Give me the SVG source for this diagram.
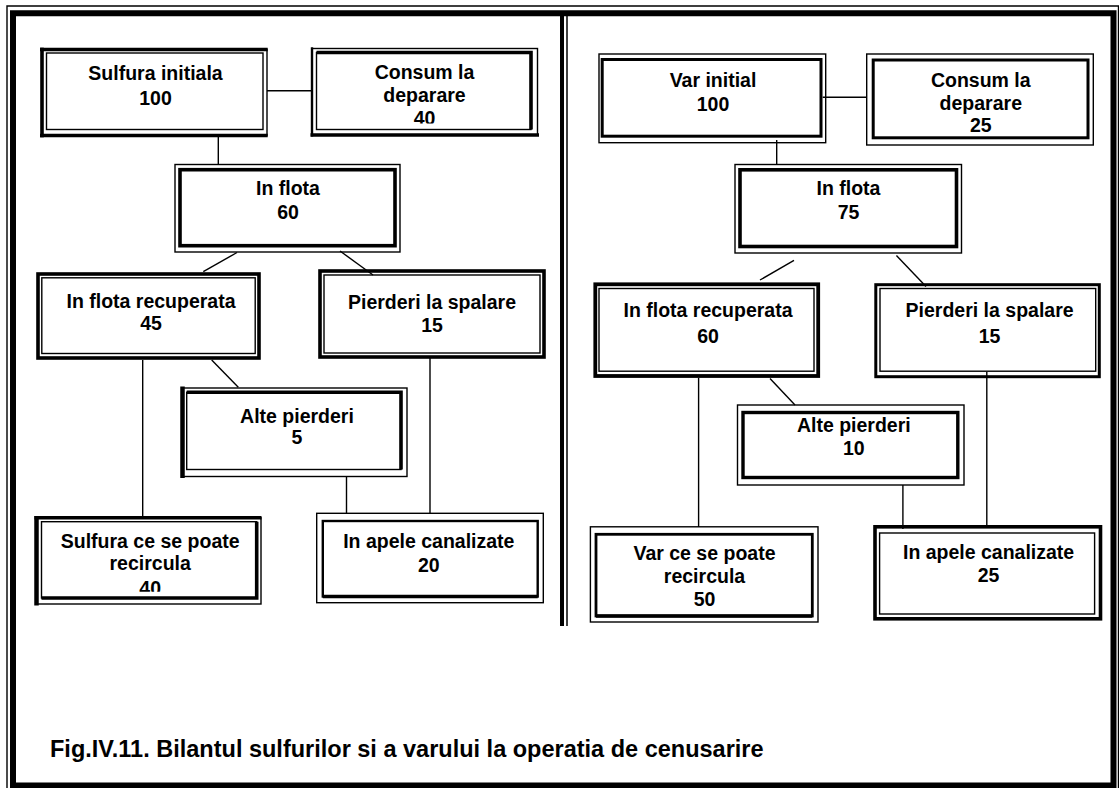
<svg xmlns="http://www.w3.org/2000/svg" width="1119" height="788" viewBox="0 0 1119 788">
<style>
.thin{fill:none;stroke:#000;stroke-width:1.4}
.med{fill:none;stroke:#000;stroke-width:2.4}
.thick{fill:none;stroke:#000;stroke-width:3.6}
.heavy{fill:none;stroke:#000;stroke-width:4.5}
.conn line{stroke:#000;stroke-width:1.4}
text{font-family:"Liberation Sans",Arial,Helvetica,sans-serif;font-weight:bold;fill:#000}
.t{font-size:19.5px;text-anchor:middle}
.cap{font-size:23.5px}
</style>
<defs>
<clipPath id="clipA"><rect x="310" y="40" width="240" height="83.5"/></clipPath>
<clipPath id="clipB"><rect x="30" y="510" width="240" height="81.8"/></clipPath>
</defs>
<rect x="0" y="0" width="1119" height="788" fill="#fff"/>
<g id="frame">
<path class="thin" d="M7 788V6H1118.5V788"/>
<path d="M13 788V13.3H1113.5V785.5H13" fill="none" stroke="#000" stroke-width="6"/>
<path d="M562 16V626" fill="none" stroke="#000" stroke-width="4"/>
<path d="M567 16V626" fill="none" stroke="#000" stroke-width="1.5"/>
</g>
<g id="connectors" class="conn">
<line x1="267" y1="90.7" x2="311" y2="90.7"/>
<line x1="218.3" y1="137" x2="218.3" y2="164"/>
<line x1="237" y1="252.5" x2="203.3" y2="271.7"/>
<line x1="340" y1="251" x2="373" y2="275"/>
<line x1="211.7" y1="360" x2="238.3" y2="387.3"/>
<line x1="142.7" y1="360" x2="142.7" y2="516"/>
<line x1="346.5" y1="477" x2="346.5" y2="513"/>
<line x1="430" y1="358" x2="430" y2="513"/>
<line x1="822.7" y1="97.3" x2="867" y2="97.3"/>
<line x1="776.7" y1="140" x2="776.7" y2="164"/>
<line x1="794" y1="260.4" x2="760" y2="280"/>
<line x1="896.4" y1="255.4" x2="926" y2="286.4"/>
<line x1="770" y1="378.6" x2="795" y2="405"/>
<line x1="698.6" y1="378" x2="698.6" y2="527"/>
<line x1="902.9" y1="485" x2="902.9" y2="529"/>
<line x1="986.8" y1="372" x2="986.8" y2="525"/>
</g>
<g id="n-sulfura-initiala">
<rect class="thin" x="42" y="49.5" width="225" height="86"/>
<path class="thick" d="M42 47.5V137.5M40 49.5H267.7M40 135.5H267.7"/>
<rect class="thin" x="46.5" y="53" width="216.5" height="76.5"/>
<text class="t" x="155.5" y="80">Sulfura initiala</text>
<text class="t" x="155.5" y="105">100</text>
</g>
<g id="n-consum-s">
<rect class="thin" x="312" y="48.5" width="225.5" height="86.5"/>
<path class="med" d="M312 47.3V136.5"/>
<path class="thick" d="M310.5 135H539"/>
<rect class="thin" x="316.5" y="52.5" width="214.5" height="77"/>
<path class="thick" d="M316.5 52.5H531V129.5"/>
<g clip-path="url(#clipA)">
<text class="t" x="424.5" y="79">Consum la</text>
<text class="t" x="424.5" y="101.7">deparare</text>
<text class="t" x="424.5" y="125">40</text>
</g>
</g>
<g id="n-flota-s">
<rect class="thin" x="175" y="164.5" width="225" height="87.5"/>
<rect class="thick" x="180" y="169.7" width="215" height="76"/>
<text class="t" x="288" y="195">In flota</text>
<text class="t" x="288" y="219">60</text>
</g>
<g id="n-recuperata-s">
<rect class="thick" x="38" y="274" width="221" height="84"/>
<rect class="thin" x="41.8" y="277.8" width="213.4" height="75.7"/>
<text class="t" x="151" y="308.3">In flota recuperata</text>
<text class="t" x="151" y="330">45</text>
</g>
<g id="n-spalare-s">
<rect class="thick" x="320" y="271" width="224" height="86"/>
<rect class="thin" x="324" y="275" width="216" height="78"/>
<text class="t" x="432" y="309">Pierderi la spalare</text>
<text class="t" x="432" y="332">15</text>
</g>
<g id="n-alte-s">
<rect class="thin" x="182.5" y="388" width="224.5" height="88.5"/>
<path class="heavy" d="M182.5 386.5V478"/>
<rect class="thin" x="186.7" y="392.3" width="214.3" height="77.2"/>
<path class="thick" d="M186.7 392.3H401V469.5"/>
<text class="t" x="297" y="422.7">Alte pierderi</text>
<text class="t" x="297" y="444">5</text>
</g>
<g id="n-recircula-s">
<rect class="thin" x="36.5" y="517.8" width="224.5" height="86.2"/>
<path class="heavy" d="M36.5 516V605.5"/>
<path class="thick" d="M34.5 517.8H261.5"/>
<rect class="thin" x="41.5" y="521.7" width="215.2" height="76.3"/>
<path class="thick" d="M256.7 521.7V598H41.5"/>
<g clip-path="url(#clipB)">
<text class="t" x="150.2" y="548.3">Sulfura ce se poate</text>
<text class="t" x="150.2" y="570">recircula</text>
<text class="t" x="150.2" y="595">40</text>
</g>
</g>
<g id="n-apele-s">
<rect class="thin" x="316.7" y="513.3" width="226.6" height="89.4"/>
<rect class="med" x="322.8" y="521" width="214.9" height="75.5"/>
<path class="thick" d="M322.8 596.5H537.7"/>
<text class="t" x="428.8" y="548.3">In apele canalizate</text>
<text class="t" x="428.8" y="571.7">20</text>
</g>
<g id="n-var-initial">
<rect class="thin" x="599" y="54" width="226.7" height="88.7"/>
<rect x="602.2" y="59.5" width="218.8" height="76.7" fill="none" stroke="#000" stroke-width="3"/>
<text class="t" x="713" y="87.3">Var initial</text>
<text class="t" x="713" y="111">100</text>
</g>
<g id="n-consum-v">
<rect class="thin" x="866.7" y="54" width="226.6" height="91"/>
<rect x="873.2" y="60" width="214.8" height="77.8" fill="none" stroke="#000" stroke-width="3"/>
<text class="t" x="980.8" y="87.3">Consum la</text>
<text class="t" x="980.8" y="110">deparare</text>
<text class="t" x="980.8" y="132">25</text>
</g>
<g id="n-flota-v">
<rect class="thin" x="735" y="164.5" width="226.5" height="88.5"/>
<rect class="thick" x="740" y="169.8" width="216.5" height="76.7"/>
<text class="t" x="848.5" y="195">In flota</text>
<text class="t" x="848.5" y="219">75</text>
</g>
<g id="n-recuperata-v">
<rect x="595.3" y="284.3" width="222.9" height="91.7" fill="none" stroke="#000" stroke-width="3.8"/>
<rect class="thin" x="599" y="288.5" width="215" height="82.7"/>
<text class="t" x="708" y="316.8">In flota recuperata</text>
<text class="t" x="708" y="342.9">60</text>
</g>
<g id="n-spalare-v">
<rect x="875.8" y="284.7" width="223.5" height="92" fill="none" stroke="#000" stroke-width="3"/>
<rect class="thin" x="880" y="288.5" width="215.7" height="82.7"/>
<text class="t" x="989.6" y="316.8">Pierderi la spalare</text>
<text class="t" x="989.6" y="342.9">15</text>
</g>
<g id="n-alte-v">
<rect class="thin" x="737.5" y="405" width="226.5" height="80"/>
<rect x="743" y="412.5" width="214.8" height="65" fill="none" stroke="#000" stroke-width="3.4"/>
<text class="t" x="853.8" y="432">Alte pierderi</text>
<text class="t" x="853.8" y="455">10</text>
</g>
<g id="n-recircula-v">
<rect class="thin" x="590.4" y="526.8" width="227.6" height="95.2"/>
<rect x="596" y="534.3" width="216.3" height="81.7" fill="none" stroke="#000" stroke-width="2.8"/>
<path class="thick" d="M596 616H812.3"/>
<text class="t" x="704.5" y="560">Var ce se poate</text>
<text class="t" x="704.5" y="583">recircula</text>
<text class="t" x="704.5" y="606">50</text>
</g>
<g id="n-apele-v">
<rect class="thick" x="875" y="526.8" width="225.5" height="92"/>
<rect class="thin" x="879.6" y="533" width="215" height="81"/>
<text class="t" x="988.6" y="559">In apele canalizate</text>
<text class="t" x="988.6" y="582">25</text>
</g>
<text class="cap" x="50" y="757">Fig.IV.11. Bilantul sulfurilor si a varului la operatia de cenusarire</text>
</svg>
